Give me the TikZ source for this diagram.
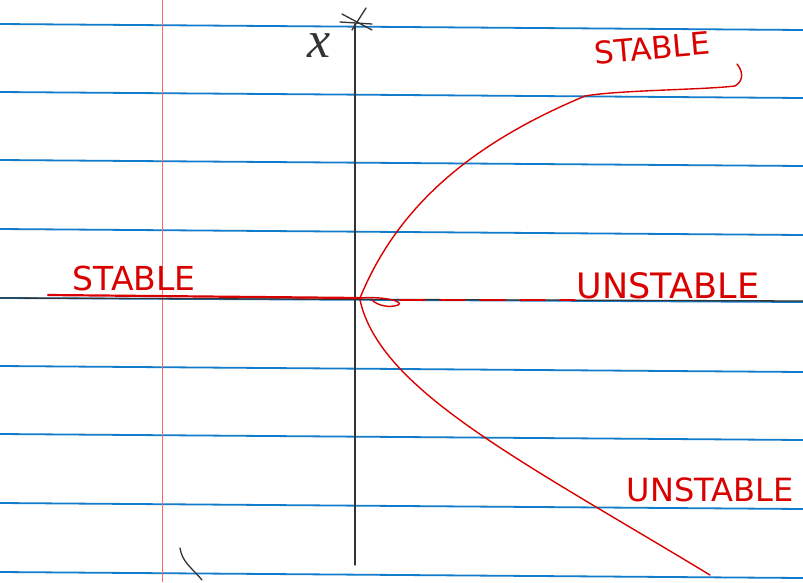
\documentclass[tikz,border=0pt]{standalone}
\usepackage{fontspec}
\setmainfont{DejaVu Sans}
\newfontfamily\xfont{Liberation Serif}
\begin{document}
\begin{tikzpicture}[x=1pt,y=-1pt,
  rule/.style={draw=cyan!60!blue, line width=1.8pt},
  pen/.style={draw=red!85!black, line width=1.4pt, line cap=round},
  ink/.style={draw=black!80, line width=1.3pt, line cap=round},
  lab/.style={text=red!85!black, inner sep=0pt}]
\useasboundingbox (0,0) rectangle (803,582);
\fill[white] (0,0) rectangle (803,582);
% ruled lines
\foreach \y in {27,95,163,232,369,437,506,575}
  \draw[rule] (0,\y-3) -- (803,\y+3);
\draw[rule] (0,298) -- (803,302);
% margin
\draw[red!60, line width=1pt] (162,0) -- (162,582);
% axes
\draw[ink] (0,298) -- (803,301);
\draw[ink] (355,24) -- (355,565);
\draw[ink] (342,14) -- (372,30);
\draw[ink] (366,8) -- (352,30);
\draw[ink] (340,22) -- (372,24);
\node[inner sep=0pt, text=black!80, font=\xfont\itshape\fontsize{52}{52}\selectfont] (xl) at (319,46) {x};
% stable branch on axis
\draw[pen, line width=2.2pt] (48,295) -- (360,298);
\node[lab, font=\fontsize{33}{33}\selectfont] (s1) at (134,278) {STABLE};
% unstable dashed
\draw[pen, dash pattern=on 25pt off 15pt] (400,300) -- (575,300);
\draw[pen] (360,298) .. controls (385,296) and (405,302) .. (398,305) .. controls (390,308) and (378,306) .. (372,300);
\node[lab, font=\fontsize{35}{35}\selectfont] (u1) at (668,286) {UNSTABLE};
% parabola
\draw[pen] (360,298) .. controls (400,200) and (480,140) .. (585,96)
  .. controls (620,90) and (700,90) .. (735,86) .. controls (745,80) and (742,70) .. (737,64);
\draw[pen] (360,300) .. controls (380,390) and (520,460) .. (710,575);
\node[lab, rotate=5, font=\fontsize{31}{31}\selectfont] (s2) at (652,48) {STABLE};
\node[lab, font=\fontsize{32}{32}\selectfont] (u2) at (710,490) {UNSTABLE};
% stray mark
\draw[ink] (180,548) .. controls (182,562) and (192,568) .. (202,580);
\end{tikzpicture}
\end{document}
